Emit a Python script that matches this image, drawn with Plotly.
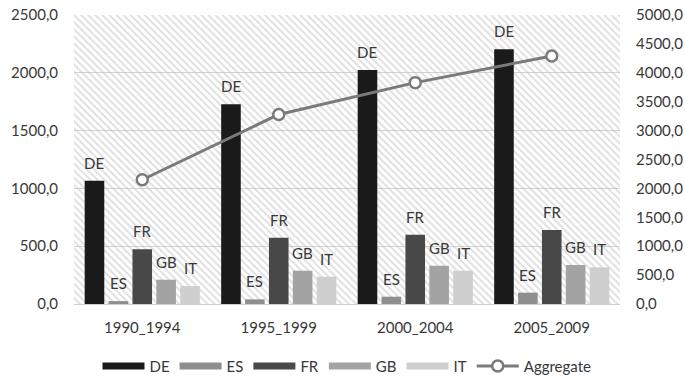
import plotly.graph_objects as go

# Periods on the category axis
periods = ["1990_1994", "1995_1999", "2000_2004", "2005_2009"]

# Per-country values (left axis)
de = [1066, 1727, 2024, 2203]
es = [25, 40, 63, 98]
fr = [473, 574, 600, 640]
gb = [210, 288, 331, 337]
it = [156, 236, 288, 317]

# Aggregate (right axis)
aggregate = [2150, 3280, 3830, 4290]

series = [
    ("DE", de, "#1a1a1a"),
    ("ES", es, "#8e8e8e"),
    ("FR", fr, "#484848"),
    ("GB", gb, "#a3a3a3"),
    ("IT", it, "#cfcfcf"),
]

LEFT_MAX = 2500
RIGHT_MAX = 5000
FONT = "Lato"
TEXT_COLOR = "#383838"
BARGAP = 0.125
BARGROUPGAP = 0.18
LINE_COLOR = "#7a7a7a"

fig = go.Figure()

# Hatched plot-area background (main subplot, underneath the bar overlay)
fig.add_trace(go.Bar(
    x=periods, y=[LEFT_MAX] * len(periods), width=1,
    xaxis="x", yaxis="y",
    marker=dict(color="rgba(0,0,0,0)", line=dict(width=0),
                pattern=dict(shape="\\", fgcolor="#bdbdbd", size=5, solidity=0.35)),
    showlegend=False, hoverinfo="skip",
))

annotations = []
n = len(series)
slot = (1 - BARGAP) / n
for i, (name, vals, color) in enumerate(series):
    fig.add_trace(go.Bar(
        name=name, x=periods, y=vals,
        xaxis="x", yaxis="y2",
        marker=dict(color=color, line=dict(width=0)),
        legendgroup=name, showlegend=False,
    ))
    # wide legend swatch for the series
    fig.add_trace(go.Scatter(
        name=name, x=[None], y=[None], xaxis="x", yaxis="y2",
        mode="lines", line=dict(color=color, width=7),
        legendgroup=name, showlegend=True, hoverinfo="skip",
    ))
    # series name above each bar
    for k, v in enumerate(vals):
        annotations.append(dict(
            x=k + (i - (n - 1) / 2) * slot, y=v, xref="x", yref="y2",
            text=name, showarrow=False, yanchor="bottom", yshift=7,
            font=dict(family=FONT, size=15, color=TEXT_COLOR),
        ))

fig.add_trace(go.Scatter(
    name="Aggregate", x=periods, y=aggregate,
    xaxis="x", yaxis="y3", mode="lines+markers",
    line=dict(color=LINE_COLOR, width=3),
    marker=dict(symbol="circle", size=11, color="white",
                line=dict(color=LINE_COLOR, width=2.5)),
))

tick_font = dict(family=FONT, size=15, color=TEXT_COLOR)

fig.update_layout(
    width=685, height=378,
    margin=dict(l=74, r=65, t=15, b=74, autoexpand=False),
    paper_bgcolor="white", plot_bgcolor="white",
    separators=", ",
    barmode="group", bargap=BARGAP, bargroupgap=BARGROUPGAP,
    font=dict(family=FONT, size=15, color=TEXT_COLOR),
    annotations=annotations,
    xaxis=dict(
        type="category", categoryorder="array", categoryarray=periods,
        range=[-0.5, len(periods) - 0.5],
        showgrid=False, showline=True, linecolor="#d0d0d0", linewidth=1,
        ticks="outside", ticklen=10, tickcolor="rgba(0,0,0,0)",
        tickfont=tick_font,
    ),
    yaxis=dict(
        range=[0, LEFT_MAX], dtick=500, tickformat=".1f",
        showgrid=True, gridcolor="#d4d4d4", gridwidth=1,
        zeroline=False, showline=False,
        ticks="outside", ticklen=12, tickcolor="rgba(0,0,0,0)",
        tickfont=tick_font,
    ),
    yaxis2=dict(
        overlaying="y", range=[0, LEFT_MAX], visible=False,
    ),
    yaxis3=dict(
        overlaying="y", side="right", range=[0, RIGHT_MAX], dtick=500,
        tickformat=".1f", showgrid=False, zeroline=False,
        ticks="outside", ticklen=12, tickcolor="rgba(0,0,0,0)",
        tickfont=tick_font,
    ),
    legend=dict(
        orientation="h", x=0.5, xanchor="center", y=-0.215, yanchor="middle",
        font=dict(family=FONT, size=15, color=TEXT_COLOR),
        tracegroupgap=0, itemwidth=42,
    ),
)

fig.write_html("out.html")
